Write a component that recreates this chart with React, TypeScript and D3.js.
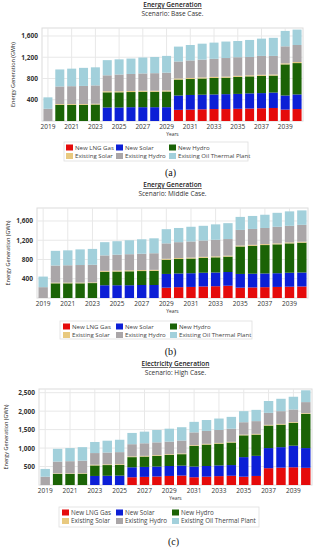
import React from 'react';
import * as d3 from 'd3';

const years = d3.range(2019, 2041).map(String);
const seriesNames = ['New LNG Gas', 'New Solar', 'New Hydro', 'Existing Solar', 'Existing Hydro', 'Existing Oil Thermal Plant'];
const seriesColors = ['#e50b0b', '#0c1fd6', '#1b6306', '#e8c97f', '#aaa6a8', '#a2d0db'];

// rows per year: lng, new solar, new hydro, existing solar, existing hydro, existing oil
const baseCase = [
  [0, 0, 0, 0, 230, 215], [0, 0, 305, 15, 330, 320], [0, 0, 305, 15, 335, 330], [0, 0, 305, 15, 340, 340],
  [0, 0, 310, 15, 345, 340], [0, 255, 285, 20, 300, 285], [0, 255, 285, 20, 315, 285], [0, 260, 285, 20, 320, 290],
  [0, 260, 290, 20, 325, 300], [0, 260, 290, 20, 330, 305], [0, 260, 295, 20, 335, 315], [210, 270, 300, 20, 320, 280],
  [215, 275, 300, 20, 330, 290], [220, 275, 305, 20, 335, 300], [225, 275, 310, 20, 340, 305], [225, 280, 310, 20, 350, 310],
  [230, 280, 320, 20, 350, 305], [235, 285, 320, 20, 345, 320], [240, 285, 325, 20, 355, 325], [245, 290, 320, 20, 350, 340],
  [215, 265, 585, 20, 320, 290], [225, 275, 590, 20, 320, 290],
];
const middleCase = [
  [0, 0, 0, 0, 225, 220], [0, 0, 305, 15, 355, 305], [0, 0, 305, 15, 360, 310], [0, 0, 305, 15, 365, 325],
  [0, 0, 310, 15, 365, 330], [0, 265, 280, 20, 320, 275], [0, 265, 285, 20, 330, 280], [0, 265, 290, 20, 335, 290],
  [0, 270, 290, 20, 340, 300], [0, 270, 295, 20, 345, 310], [215, 285, 295, 20, 320, 295], [225, 285, 300, 20, 330, 295],
  [230, 285, 305, 20, 335, 305], [240, 285, 310, 20, 340, 305], [245, 285, 315, 20, 345, 320], [255, 285, 320, 20, 345, 330],
  [215, 285, 570, 20, 325, 270], [220, 285, 580, 20, 330, 270], [225, 285, 590, 20, 335, 275], [230, 285, 600, 20, 345, 290],
  [235, 290, 610, 20, 345, 300], [240, 290, 620, 20, 350, 300],
];
const highCase = [
  [0, 0, 0, 0, 225, 210], [0, 0, 300, 15, 320, 345], [0, 0, 300, 15, 330, 355], [0, 0, 305, 15, 340, 365],
  [0, 245, 285, 20, 315, 300], [0, 250, 290, 20, 320, 320], [0, 255, 290, 20, 325, 335], [210, 270, 275, 20, 330, 305],
  [220, 270, 280, 20, 340, 315], [230, 270, 290, 20, 345, 335], [245, 270, 300, 20, 340, 350], [255, 270, 310, 20, 350, 360],
  [210, 290, 560, 20, 345, 285], [225, 290, 580, 20, 350, 295], [240, 290, 590, 20, 350, 310], [250, 290, 610, 20, 355, 320],
  [225, 530, 590, 20, 335, 300], [245, 545, 575, 20, 345, 305], [455, 545, 610, 20, 325, 320], [470, 555, 610, 20, 345, 335],
  [480, 585, 620, 20, 340, 345], [465, 535, 925, 20, 300, 320],
];

const font = '"Open Sans", "DejaVu Sans", sans-serif';

const Chart = ({ cfg }) => {
  const { title, sub, rows, yMax, yTicks, top, bottom, left, right, titleY, legend, caption, captionY, yLabelX } = cfg;
  const x = d3.scaleBand().domain(years).range([left, right]).paddingInner(0.24).paddingOuter(0.12);
  const y = d3.scaleLinear().domain([0, yMax]).range([bottom, top]);
  const table = rows.map((r, i) => {
    const o: any = { year: years[i] };
    seriesNames.forEach((s, j) => (o[s] = r[j]));
    return o;
  });
  const stacked = d3.stack().keys(seriesNames)(table);
  const fmt = d3.format(',');
  const labelYears = years.filter((_, i) => i % 2 === 0);
  const cx = (left + right) / 2;
  return (
    <g>
      <text x={cx} y={titleY} textAnchor="middle" fontSize={6.5} fontWeight={600} fill="#222" textDecoration="underline">{title}</text>
      <text x={cx} y={titleY + 9} textAnchor="middle" fontSize={6.5} fill="#333">{sub}</text>
      <rect x={left} y={top} width={right - left} height={bottom - top} fill="#fff" stroke="#dcdcdc" strokeWidth={1} />
      {yTicks.map((t) => (
        <g key={t}>
          <line x1={left} x2={right} y1={y(t)} y2={y(t)} stroke="#e8e8e8" />
          <text x={left - 4} y={y(t) + 2.5} textAnchor="end" fontSize={6.5} fontWeight={700} fill="#333">{fmt(t)}</text>
        </g>
      ))}
      {labelYears.map((yr) => (
        <line key={yr} x1={x(yr) + x.bandwidth() / 2} x2={x(yr) + x.bandwidth() / 2} y1={top} y2={bottom} stroke="#e8e8e8" />
      ))}
      {stacked.map((s, j) => (
        <g key={s.key} fill={seriesColors[j]}>
          {s.map((d, i) => (d[1] - d[0] > 0 ? (
            <rect key={i} x={x(years[i])} width={x.bandwidth()} y={y(d[1])} height={y(d[0]) - y(d[1])} />
          ) : null))}
        </g>
      ))}
      {labelYears.map((yr) => (
        <text key={yr} x={x(yr) + x.bandwidth() / 2} y={bottom + 8} textAnchor="middle" fontSize={6.5} fill="#333">{yr}</text>
      ))}
      <text transform={`translate(${yLabelX},${(top + bottom) / 2}) rotate(-90)`} textAnchor="middle" fontSize={5.5} fill="#222">Energy Generation (GWh)</text>
      <text x={cx} y={bottom + 15} textAnchor="middle" fontSize={4.8} fill="#333">Years</text>
      <rect x={legend.x} y={legend.y} width={legend.w} height={legend.h} fill="#fff" stroke="#dedede" strokeWidth={0.8} />
      {seriesNames.map((s, j) => {
        const col = j % 3;
        const row = Math.floor(j / 3);
        const sx = legend.x + legend.cols[col];
        const sy = legend.y + 2.5 + row * 8.5;
        return (
          <g key={s}>
            <rect x={sx} y={sy} width={7} height={6} fill={seriesColors[j]} />
            <text x={sx + 9} y={sy + 5.2} fontSize={legend.fs} fill="#444">{s}</text>
          </g>
        );
      })}
      <text x={cx - 2} y={captionY} textAnchor="middle" fontSize={10} fontFamily="'Liberation Serif', serif" fill="#111">{caption}</text>
    </g>
  );
};

const charts = [
  {
    title: 'Energy Generation', sub: 'Scenario: Base Case.', rows: baseCase, yMax: 1750, yTicks: [400, 800, 1200, 1600],
    top: 28, bottom: 121, left: 42, right: 303, titleY: 7, yLabelX: 15, caption: '(a)', captionY: 176,
    legend: { x: 64, y: 142, w: 184, h: 19, cols: [2, 52, 105], fs: 6.1 },
  },
  {
    title: 'Energy Generation', sub: 'Scenario: Middle Case.', rows: middleCase, yMax: 1870, yTicks: [400, 800, 1200, 1600],
    top: 208, bottom: 298, left: 37, right: 308, titleY: 187, yLabelX: 10, caption: '(b)', captionY: 355,
    legend: { x: 60, y: 321, w: 192, h: 18, cols: [3, 56, 110], fs: 6.1 },
  },
  {
    title: 'Electricity Generation', sub: 'Scenario: High Case.', rows: highCase, yMax: 2600, yTicks: [500, 1000, 1500, 2000, 2500],
    top: 389, bottom: 485, left: 39, right: 312, titleY: 366, yLabelX: 8, caption: '(c)', captionY: 545,
    legend: { x: 59, y: 507, w: 200, h: 20, cols: [3, 57, 113], fs: 6.3 },
  },
];

export default function App() {
  return (
    <svg width={322} height={550} style={{ position: 'absolute', left: 0, top: 0, fontFamily: font, background: '#fff' }}>
      <rect width={322} height={550} fill="#fff" />
      {charts.map((c) => <Chart key={c.caption} cfg={c} />)}
    </svg>
  );
}
